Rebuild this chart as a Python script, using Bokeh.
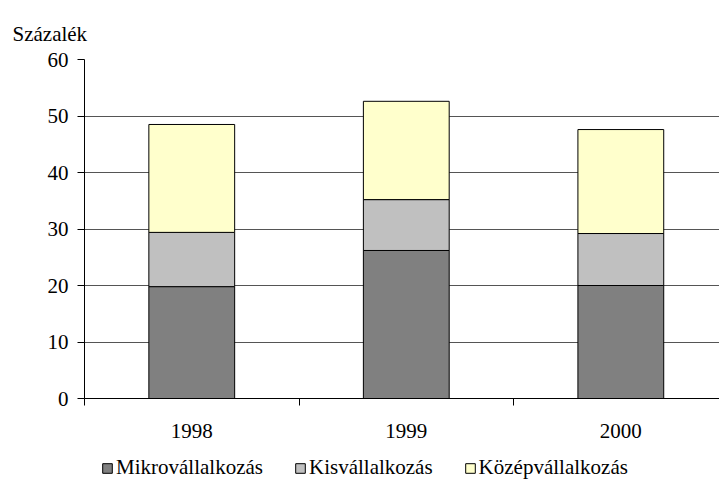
from bokeh.plotting import figure
from bokeh.layouts import column
from bokeh.models import ColumnDataSource, Range1d, FixedTicker, Legend, LegendItem
from bokeh.embed import file_html
from bokeh.resources import INLINE

years = ["1998", "1999", "2000"]
mikro = [19.8, 26.2, 20.0]
kis = [9.6, 9.0, 9.2]
kozep = [19.1, 17.4, 18.4]
series_names = ["Mikrovállalkozás", "Kisvállalkozás", "Középvállalkozás"]
colors = ["#808080", "#C0C0C0", "#FFFFCC"]
y_ticks = [0, 10, 20, 30, 40, 50, 60]

x = [i + 0.5 for i in range(len(years))]
b1 = [0] * len(years)
t1 = [a for a in mikro]
t2 = [a + b for a, b in zip(mikro, kis)]
t3 = [a + b + c for a, b, c in zip(mikro, kis, kozep)]
src = ColumnDataSource(dict(x=x, b1=b1, t1=t1, t2=t2, t3=t3))

FONT = "'Liberation Serif', serif"
FS = "21px"

p = figure(frame_width=635, frame_height=339, output_backend="svg", toolbar_location=None,
           x_range=Range1d(0, 2.96), y_range=Range1d(0, 60),
           min_border_left=84, min_border_right=0, min_border_top=59,
           min_border_bottom=52)
p.outline_line_color = None
p.background_fill_color = "white"
p.border_fill_color = "white"

p.title.text = "Százalék"
p.title.align = "left"
p.title.offset = -72
p.title.standoff = 27
p.title.text_font = FONT
p.title.text_font_size = FS
p.title.text_font_style = "normal"
p.title.text_color = "black"

bottoms = ["b1", "t1", "t2"]
tops = ["t1", "t2", "t3"]
for b, t, c in zip(bottoms, tops, colors):
    p.vbar(x="x", bottom=b, top=t, width=0.4, source=src,
           fill_color=c, line_color="black", line_width=1)

# axes
p.xaxis.ticker = FixedTicker(ticks=x, minor_ticks=[0, 1, 2, 3])
p.xaxis.major_label_overrides = {xx: y for xx, y in zip(x, years)}
p.xaxis.major_tick_line_color = None
p.xaxis.major_tick_out = 7
p.xaxis.minor_tick_line_color = "black"
p.xaxis.minor_tick_out = 7
p.xaxis.minor_tick_in = 0
p.xaxis.major_label_standoff = 18
p.xaxis.axis_line_color = "black"
p.xaxis.major_label_text_font = FONT
p.xaxis.major_label_text_font_size = FS
p.xaxis.major_label_text_color = "black"

p.yaxis.ticker = FixedTicker(ticks=y_ticks, minor_ticks=[])
p.yaxis.major_tick_out = 7
p.yaxis.major_tick_in = 0
p.yaxis.major_tick_line_color = "black"
p.yaxis.axis_line_color = "black"
p.yaxis.major_label_standoff = 9
p.yaxis.major_label_text_font = FONT
p.yaxis.major_label_text_font_size = FS
p.yaxis.major_label_text_color = "black"

p.xgrid.grid_line_color = None
p.ygrid.ticker = FixedTicker(ticks=y_ticks[1:])
p.ygrid.grid_line_color = "#555555"
p.ygrid.grid_line_width = 1

# legend strip below the chart (its bars fall outside its ranges, only the legend shows)
lg = figure(width=719, height=30, output_backend="svg", toolbar_location=None,
            x_range=Range1d(100, 101), y_range=Range1d(100, 101),
            min_border_left=0, min_border_right=0, min_border_top=0,
            min_border_bottom=0)
lg.axis.visible = False
lg.grid.visible = False
lg.outline_line_color = None
lr = [lg.vbar(x="x", bottom=b, top=t, width=0.4, source=src,
              fill_color=c, line_color="black", line_width=1)
      for b, t, c in zip(bottoms, tops, colors)]

legend = Legend(items=[LegendItem(label=n, renderers=[r]) for n, r in zip(series_names, lr)],
                orientation="horizontal", location=(17, 0),
                glyph_width=12, glyph_height=12, spacing=31, label_standoff=3,
                label_text_font=FONT, label_text_font_size=FS,
                label_text_color="black", border_line_color=None,
                background_fill_alpha=0, padding=0, margin=0)
lg.add_layout(legend, "center")

layout = column(p, lg, spacing=0)
open("out.html", "w").write(file_html(layout, INLINE))
